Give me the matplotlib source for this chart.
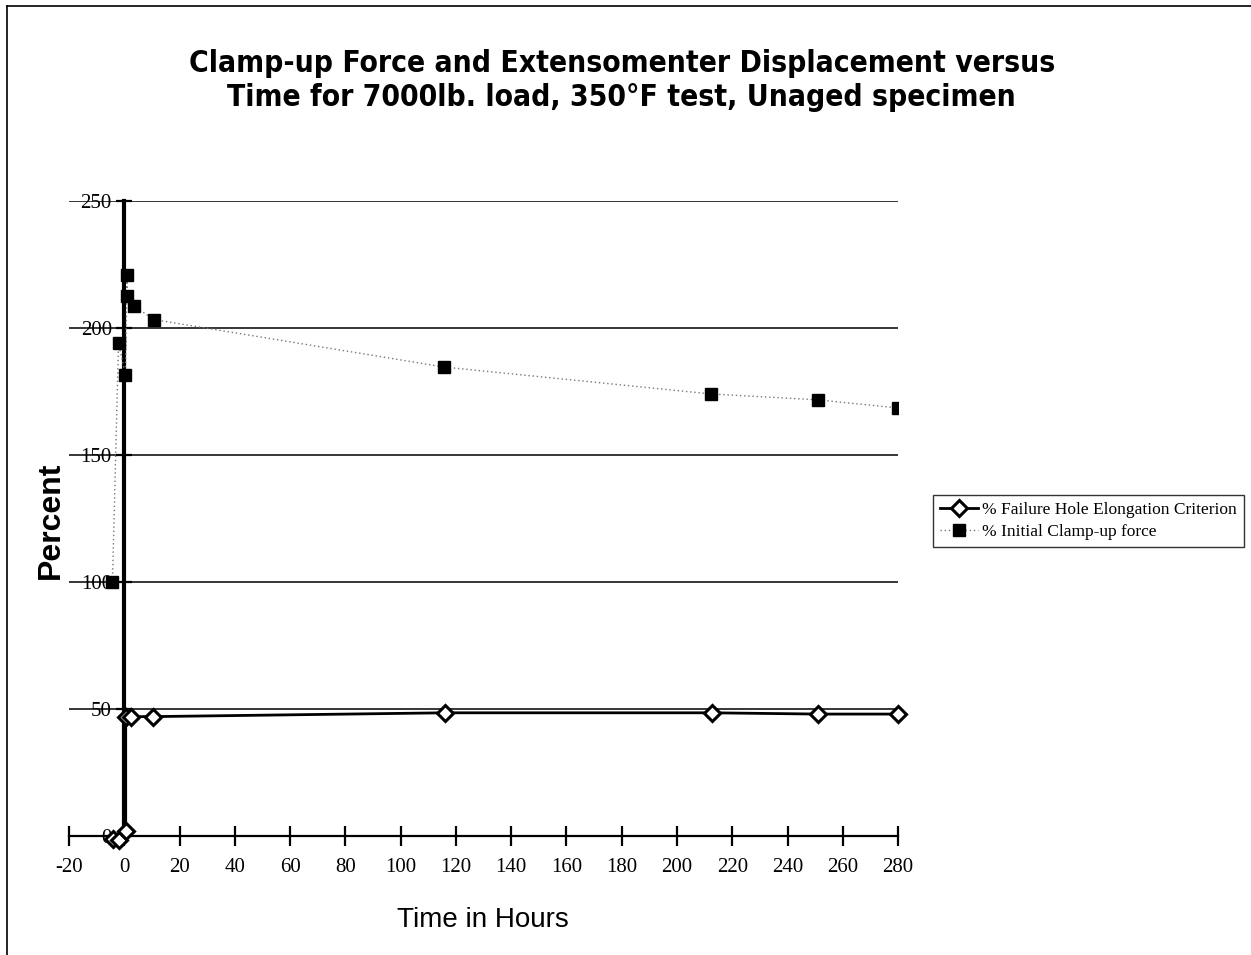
import matplotlib
matplotlib.use("Agg")
import matplotlib.pyplot as plt
from matplotlib.lines import Line2D

title = "Clamp-up Force and Extensomenter Displacement versus\nTime for 7000lb. load, 350°F test, Unaged specimen"
xlabel = "Time in Hours"
ylabel = "Percent"

# % Failure Hole Elongation Criterion
elong_t = [-4.0, -2.0, 0.5, 0.5, 2.5, 10.5, 116.0, 212.5, 251.0, 280.0]
elong_v = [-1.0, -1.5, 2.0, 47.0, 47.0, 47.0, 48.5, 48.5, 48.0, 48.0]

# % Initial Clamp-up force
clamp_t = [-4.3, -2.1, 0.4, 1.0, 0.9, 3.4, 10.7, 115.8, 212.4, 251.0, 280.0]
clamp_v = [100.0, 194.0, 181.5, 221.0, 212.6, 208.7, 203.3, 184.6, 174.0, 171.7, 168.5]

xticks = list(range(-20, 281, 20))
yticks = [0, 50, 100, 150, 200, 250]

sans = ['Liberation Sans', 'DejaVu Sans']
serif = ['Liberation Serif', 'DejaVu Serif']

fig = plt.figure(figsize=(12.51, 9.55), dpi=100)
ax = fig.add_axes([0.0552, 0.1246, 0.6627, 0.665])

ax.set_xlim(-20, 280)
ax.set_ylim(0, 250)

for y in yticks[1:]:
    ax.axhline(y, color='black', lw=1.1, zorder=1)

ax.plot(clamp_t, clamp_v, linestyle=(0, (1, 2)), color='#777777', lw=1.0,
        marker='s', markersize=9, markerfacecolor='black', markeredgecolor='black',
        label='% Initial Clamp-up force', zorder=3)
ax.plot(elong_t, elong_v, linestyle='-', color='black', lw=2.0,
        marker='D', markersize=8, markerfacecolor='white', markeredgecolor='black',
        markeredgewidth=2.2, label='% Failure Hole Elongation Criterion', zorder=4,
        clip_on=False)

for s in ['top', 'right']:
    ax.spines[s].set_visible(False)
ax.spines['left'].set_position(('data', 0))
ax.spines['left'].set_linewidth(3)
ax.spines['bottom'].set_linewidth(1.6)

ax.set_xticks(xticks)
ax.set_yticks(yticks)
ax.set_xticklabels([str(t) for t in xticks], family=serif, fontsize=15)
ax.set_yticklabels([str(t) for t in yticks], family=serif, fontsize=15)
ax.tick_params(axis='x', direction='inout', length=14, width=1.6, pad=9)
ax.tick_params(axis='y', direction='inout', length=12, width=1.6, pad=3)

fig.text(0.386, 0.037, xlabel, fontsize=20, family=sans, ha='center', va='center')
fig.text(0.041, 0.455, ylabel, rotation=90, fontsize=23, fontweight='bold',
         family=sans, ha='center', va='center')

fig.text(0.497, 0.916, title, ha='center', va='center', fontsize=21.5, fontweight='bold',
         family=['DejaVu Sans', 'Liberation Sans'], fontstretch='condensed', linespacing=1.2)

handles, labels = ax.get_legend_handles_labels()
leg = fig.legend(handles[::-1], labels[::-1], loc='center', bbox_to_anchor=(0.870, 0.4545),
                 prop={'family': serif, 'size': 12.5}, frameon=True, fancybox=False,
                 edgecolor='black', handlelength=2.2, borderpad=0.4, labelspacing=0.3,
                 handletextpad=0.2)
leg.get_frame().set_linewidth(1.0)

fig.add_artist(Line2D([0.0056, 0.0056], [0.0, 0.9937], transform=fig.transFigure,
                      color='black', lw=1.2))
fig.add_artist(Line2D([0.0056, 1.0], [0.9937, 0.9937], transform=fig.transFigure,
                      color='black', lw=1.2))

fig.savefig('out.png', dpi=100)
